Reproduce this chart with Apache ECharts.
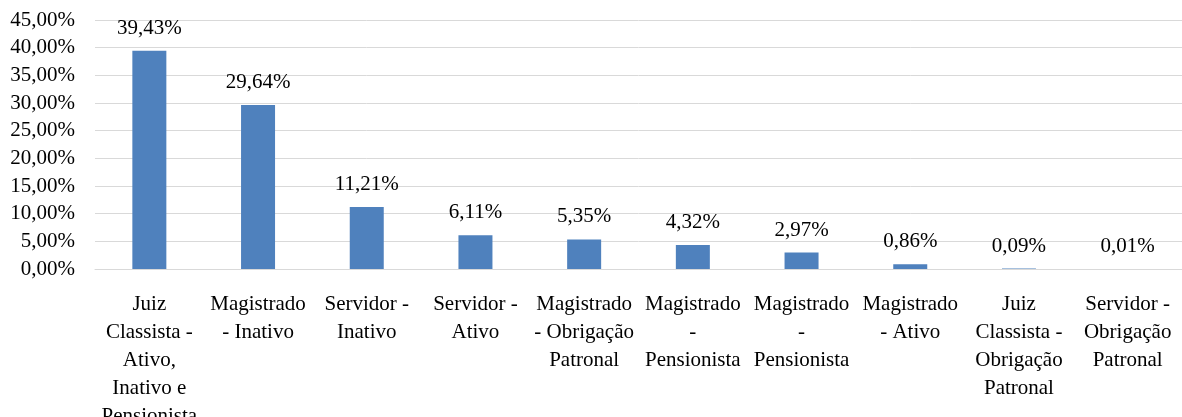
<!DOCTYPE html>
<html>
<head>
<meta charset="utf-8">
<script src="https://cdn.jsdelivr.net/npm/echarts@6/dist/echarts.min.js"></script>
<style>
  html, body { margin: 0; padding: 0; background: #fff; }
  #chart { width: 1182px; height: 417px; }
</style>
</head>
<body>
<div id="chart"></div>
<script>
// rótulos das categorias (quebras de linha como no original)
const categories = [
  'Juiz\nClassista -\nAtivo,\nInativo e\nPensionista',
  'Magistrado\n- Inativo',
  'Servidor -\nInativo',
  'Servidor -\nAtivo',
  'Magistrado\n- Obrigação\nPatronal',
  'Magistrado\n-\nPensionista',
  'Magistrado\n-\nPensionista',
  'Magistrado\n- Ativo',
  'Juiz\nClassista -\nObrigação\nPatronal',
  'Servidor -\nObrigação\nPatronal'
];

// percentuais (%)
const values = [39.43, 29.64, 11.21, 6.11, 5.35, 4.32, 2.97, 0.86, 0.09, 0.01];

const font = "'Liberation Serif', 'Times New Roman', serif";

// formato brasileiro: 39,43%
function pct(v) {
  return v.toFixed(2).replace('.', ',') + '%';
}

const chart = echarts.init(document.getElementById('chart'));

chart.setOption({
  animation: false,
  grid: {
    left: 95,
    right: 0,
    top: 20,
    bottom: 148,
    outerBoundsMode: 'none',
    containLabel: false
  },
  xAxis: {
    type: 'category',
    data: categories,
    axisLine: { lineStyle: { color: '#d9d9d9', width: 1 } },
    axisTick: { show: false },
    axisLabel: {
      interval: 0,
      color: '#000',
      fontFamily: font,
      fontSize: 21,
      lineHeight: 28,
      margin: 21
    }
  },
  yAxis: {
    type: 'value',
    min: 0,
    max: 45,
    interval: 5,
    axisLine: { show: false },
    axisTick: { show: false },
    splitLine: { lineStyle: { color: '#d9d9d9', width: 1 } },
    axisLabel: {
      color: '#000',
      fontFamily: font,
      fontSize: 21,
      margin: 20,
      formatter: (v) => pct(v)
    }
  },
  series: [
    {
      type: 'bar',
      data: values,
      barWidth: 34,
      itemStyle: { color: '#4f81bd' },
      label: {
        show: true,
        position: 'top',
        distance: 12,
        color: '#000',
        fontFamily: font,
        fontSize: 21,
        formatter: (p) => pct(p.value)
      }
    }
  ]
});
</script>
</body>
</html>
